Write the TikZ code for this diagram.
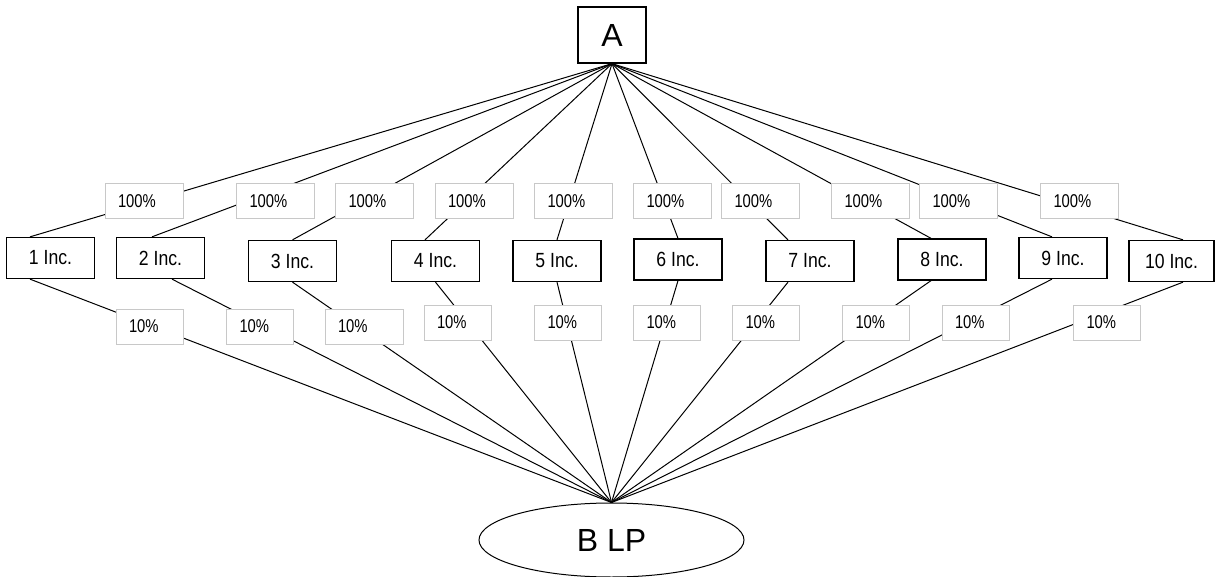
\documentclass[tikz,border=0pt]{standalone}
\usepackage{fontspec}
\setmainfont{Liberation Sans}
\newfontfamily\narrowfont{Liberation Sans}[FakeStretch=0.80]
\newfontfamily\incfont{Liberation Sans}[FakeStretch=0.86]
\usetikzlibrary{shapes.geometric}
\definecolor{lblgray}{RGB}{200,200,200}
\tikzset{
  wire/.style={line width=1pt, black},
  incbox/.style={draw, line width=1.3pt, fill=white, minimum width=88pt, minimum height=41pt,
    inner sep=0pt, font=\incfont\fontsize{20.5}{22}\selectfont},
  pct/.style={draw=lblgray, line width=1pt, fill=white, minimum height=35pt, inner xsep=13pt,
    inner ysep=0pt, align=left, font=\narrowfont\fontsize{18.5}{20}\selectfont},
  upct/.style={pct, text width=52pt},
  lpct/.style={pct, text width=41pt},
}
\begin{document}
\begin{tikzpicture}[x=1pt,y=-1pt]
\useasboundingbox (0,0) rectangle (1215,577);

% top and bottom entities
\node[draw, line width=1.3pt, minimum width=68pt, minimum height=56pt, inner sep=0pt,
  font=\fontsize{32}{34}\selectfont] (A) at (612,35) {A};
\node[draw, ellipse, line width=1pt, minimum width=265pt, minimum height=74pt, inner sep=0pt,
  font=\fontsize{32}{34}\selectfont] (B) at (611.5,540) {B LP};

% the ten companies
\node[incbox] (i1)  at (50.5,258)  {1 Inc.};
\node[incbox] (i2)  at (160.5,258) {2 Inc.};
\node[incbox] (i3)  at (292.5,261) {3 Inc.};
\node[incbox] (i4)  at (435.5,261) {4 Inc.};
\node[incbox] (i5)  at (557,261)   {5 Inc.};
\node[incbox] (i6)  at (678,259.5) {6 Inc.};
\node[incbox] (i7)  at (810,261)   {7 Inc.};
\node[incbox] (i8)  at (942,259.5) {8 Inc.};
\node[incbox] (i9)  at (1063,258)  {9 Inc.};
\node[incbox, minimum width=85pt] (i10) at (1171.5,261) {10 Inc.};

% A owns every company
\draw[wire] (A.south) -- ([xshift=-20.5pt]i1.north);
\draw[wire] (A.south) -- ([xshift=-8.5pt]i2.north);
\draw[wire] (A.south) -- (i3.north);
\draw[wire] (A.south) -- ([xshift=-10.5pt]i4.north);
\draw[wire] (A.south) -- (i5.north);
\draw[wire] (A.south) -- (i6.north);
\draw[wire] (A.south) -- ([xshift=-22pt]i7.north);
\draw[wire] (A.south) -- ([xshift=-11pt]i8.north);
\draw[wire] (A.south) -- ([xshift=-11pt]i9.north);
\draw[wire] (A.south) -- ([xshift=11.5pt]i10.north);

% every company holds a share of B LP
\draw[wire] ([xshift=-20.5pt]i1.south) -- (B.north);
\draw[wire] ([xshift=11.5pt]i2.south)  -- (B.north);
\draw[wire] (i3.south) -- (B.north);
\draw[wire] (i4.south) -- (B.north);
\draw[wire] (i5.south) -- (B.north);
\draw[wire] (i6.south) -- (B.north);
\draw[wire] ([xshift=-22pt]i7.south) -- (B.north);
\draw[wire] ([xshift=-11pt]i8.south) -- (B.north);
\draw[wire] ([xshift=-11pt]i9.south) -- (B.north);
\draw[wire] ([xshift=11.5pt]i10.south) -- (B.north);

% percentage labels, upper row
\node[upct] (p1)  at (144,201.5)  {100\%};
\node[upct] (p2)  at (275.5,201.5) {100\%};
\node[upct] (p3)  at (374.5,201.5) {100\%};
\node[upct] (p4)  at (474,201.5)  {100\%};
\node[upct] (p5)  at (573.5,201.5) {100\%};
\node[upct] (p6)  at (672.5,201.5) {100\%};
\node[upct] (p7)  at (760.5,201.5) {100\%};
\node[upct] (p8)  at (870.5,201.5) {100\%};
\node[upct] (p9)  at (958.5,201.5) {100\%};
\node[upct] (p10) at (1079.5,201.5) {100\%};

% percentage labels, lower row
\node[lpct] (q1)  at (149.5,326.5) {10\%};
\node[lpct] (q2)  at (260,326.5)   {10\%};
\node[lpct, text width=52pt] (q3) at (364,326.5) {10\%};
\node[lpct] (q4)  at (457.5,322.5) {10\%};
\node[lpct] (q5)  at (568,322.5)   {10\%};
\node[lpct] (q6)  at (667,322.5)   {10\%};
\node[lpct] (q7)  at (766,322.5)   {10\%};
\node[lpct] (q8)  at (876,322.5)   {10\%};
\node[lpct] (q9)  at (975.5,322.5) {10\%};
\node[lpct] (q10) at (1107,322.5)  {10\%};
\end{tikzpicture}
\end{document}
